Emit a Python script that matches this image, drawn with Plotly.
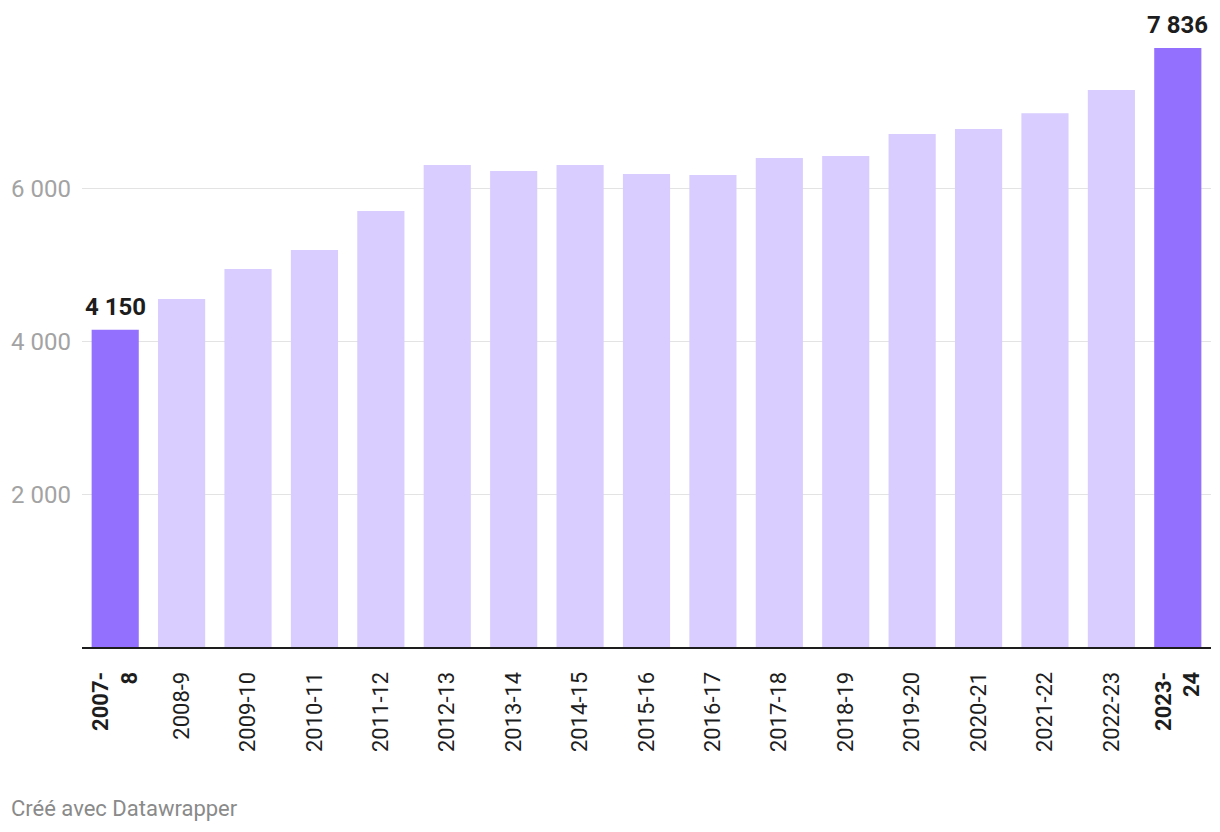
import plotly.graph_objects as go

categories = ["2007-8", "2008-9", "2009-10", "2010-11", "2011-12", "2012-13",
              "2013-14", "2014-15", "2015-16", "2016-17", "2017-18", "2018-19",
              "2019-20", "2020-21", "2021-22", "2022-23", "2023-24"]
values = [4150, 4553, 4945, 5193, 5703, 6305, 6226, 6305, 6187, 6173,
          6396, 6422, 6710, 6775, 6984, 7285, 7836]
highlighted = [True] + [False] * 15 + [True]
tick_labels = ["<b>2007-<br>8</b>", "2008-9", "2009-10", "2010-11", "2011-12",
               "2012-13", "2013-14", "2014-15", "2015-16", "2016-17", "2017-18",
               "2018-19", "2019-20", "2020-21", "2021-22", "2022-23",
               "<b>2023-<br>24</b>"]
y_tick_values = [2000, 4000, 6000]
y_tick_labels = ["2 000", "4 000", "6 000"]

DARK = "#9470ff"
LIGHT = "#d9cdff"

colors = [DARK if h else LIGHT for h in highlighted]

fig = go.Figure()
fig.add_trace(go.Bar(
    x=categories,
    y=values,
    marker=dict(color=colors, line=dict(width=0)),
    cliponaxis=False,
    hoverinfo="skip",
))

value_annotations = [
    dict(
        x=c, y=v, xref="x", yref="y",
        text=f"<b>{v:,}</b>".replace(",", " "),
        showarrow=False,
        xanchor="center", yanchor="bottom",
        yshift=7,
        font=dict(family="Roboto", size=24, color="#1d1d1d"),
    )
    for c, v, h in zip(categories, values, highlighted) if h
]

footer = dict(
    text="Créé avec Datawrapper",
    xref="paper", yref="paper",
    x=0, y=0,
    xshift=-73, yshift=-161,
    xanchor="left", yanchor="middle",
    showarrow=False,
    font=dict(family="Roboto", size=22, color="#8a8a8a"),
)

fig.update_layout(
    width=1220,
    height=832,
    margin=dict(l=82, r=9, t=48, b=185),
    paper_bgcolor="white",
    plot_bgcolor="white",
    bargap=0.29,
    showlegend=False,
    font=dict(family="Roboto", color="#1d1d1d"),
    xaxis=dict(
        type="category",
        tickmode="array",
        tickvals=categories,
        ticktext=tick_labels,
        tickangle=-90,
        tickfont=dict(family="Roboto", size=22, color="#1d1d1d"),
        showgrid=False,
        showline=True,
        linecolor="#1d1d1d",
        linewidth=2,
        ticks="",
        ticklabelstandoff=14,
        range=[-0.5, len(categories) - 0.5],
    ),
    yaxis=dict(
        range=[0, max(values)],
        tickmode="array",
        tickvals=y_tick_values,
        ticktext=y_tick_labels,
        tickfont=dict(family="Roboto", size=24, color="#a3a3a3"),
        showgrid=True,
        gridcolor="#e3e3e3",
        gridwidth=1,
        zeroline=False,
        showline=False,
        ticks="",
        ticklabelstandoff=10,
    ),
    annotations=value_annotations + [footer],
)

fig.write_html("out.html")
